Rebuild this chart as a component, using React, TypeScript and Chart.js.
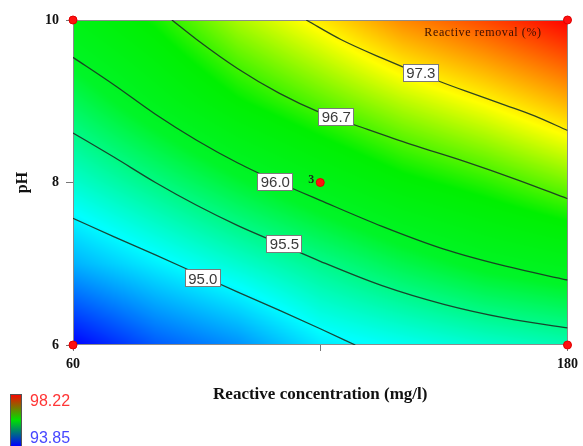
import React, { useEffect, useRef } from 'react';
import { Chart, registerables } from 'chart.js';

Chart.register(...registerables);

// ---- data ----
const concentrationGrid = [60, 80, 100, 120, 140, 160, 180];
const phGrid = [6, 7, 8, 9, 10];
const removalAtPH6 = [93.85, 94.25, 94.5, 94.9, 95.05, 95.2, 95.32];
const removalAtPH7 = [94.65, 94.93, 95.2, 95.48, 95.75, 95.98, 96.12];
const removalAtPH8 = [95.2, 95.52, 95.85, 96.15, 96.43, 96.62, 96.85];
const removalAtPH9 = [95.7, 96.1, 96.48, 96.77, 97.05, 97.28, 97.55];
const removalAtPH10 = [96.2, 96.55, 97.0, 97.33, 97.7, 97.95, 98.22];
const removalGrid = [removalAtPH6, removalAtPH7, removalAtPH8, removalAtPH9, removalAtPH10];

// colour scale stops (value -> colour)
const colorStopValues = [93.85, 95.0, 95.9, 96.5, 97.25, 98.22];
const colorStopRGB = [
  [0, 0, 255],
  [0, 255, 255],
  [0, 245, 40],
  [0, 240, 0],
  [255, 255, 0],
  [255, 0, 0],
];

const contour973 = [
  { x: 116.6, y: 10.0 }, { x: 125, y: 9.76 }, { x: 135, y: 9.53 }, { x: 145, y: 9.32 },
  { x: 155, y: 9.13 }, { x: 165, y: 8.95 }, { x: 172, y: 8.82 }, { x: 180, y: 8.64 },
];
const contour967 = [
  { x: 84, y: 10.0 }, { x: 90, y: 9.76 }, { x: 100, y: 9.4 }, { x: 110, y: 9.1 },
  { x: 120, y: 8.86 }, { x: 130, y: 8.68 }, { x: 142, y: 8.47 }, { x: 155, y: 8.26 },
  { x: 168, y: 8.03 }, { x: 180, y: 7.8 },
];
const contour960 = [
  { x: 60, y: 9.54 }, { x: 70, y: 9.2 }, { x: 80, y: 8.84 }, { x: 90, y: 8.52 },
  { x: 100, y: 8.24 }, { x: 110, y: 8.0 }, { x: 120, y: 7.78 }, { x: 135, y: 7.46 },
  { x: 150, y: 7.18 }, { x: 165, y: 6.97 }, { x: 180, y: 6.8 },
];
const contour955 = [
  { x: 60, y: 8.61 }, { x: 70, y: 8.31 }, { x: 80, y: 8.0 }, { x: 90, y: 7.72 },
  { x: 100, y: 7.47 }, { x: 110, y: 7.25 }, { x: 120, y: 7.03 }, { x: 135, y: 6.73 },
  { x: 150, y: 6.5 }, { x: 165, y: 6.33 }, { x: 180, y: 6.21 },
];
const contour950 = [
  { x: 60, y: 7.56 }, { x: 70, y: 7.33 }, { x: 80, y: 7.11 }, { x: 90, y: 6.88 },
  { x: 100, y: 6.65 }, { x: 110, y: 6.43 }, { x: 120, y: 6.2 }, { x: 128.5, y: 6.0 },
];
const contourLines = [contour973, contour967, contour960, contour955, contour950];

const contourLabelTexts = ['97.3', '96.7', '96.0', '95.5', '95.0'];
const contourLabelConc = [144.4, 123.9, 109.1, 111.3, 91.5];
const contourLabelPH = [9.35, 8.81, 8.01, 7.24, 6.82];

const designPoints = [
  { x: 60, y: 6 }, { x: 60, y: 10 }, { x: 180, y: 10 }, { x: 180, y: 6 }, { x: 120, y: 8 },
];
const centerPointLabel = '3';

const xTickValues = [60, 120, 180];
const xTickLabels = ['60', '', '180'];
const yTickValues = [6, 8, 10];
const yTickLabels = ['6', '8', '10'];

const xAxisTitle = 'Reactive concentration (mg/l)';
const yAxisTitle = 'pH';
const plotTitle = 'Reactive removal (%)';
const legendHigh = '98.22';
const legendLow = '93.85';

// ---- helpers ----
function mapColor(v: number): number[] {
  const n = colorStopValues.length;
  if (v <= colorStopValues[0]) return colorStopRGB[0];
  if (v >= colorStopValues[n - 1]) return colorStopRGB[n - 1];
  let i = 0;
  while (i < n - 2 && v > colorStopValues[i + 1]) i++;
  const f = (v - colorStopValues[i]) / (colorStopValues[i + 1] - colorStopValues[i]);
  const a = colorStopRGB[i];
  const b = colorStopRGB[i + 1];
  return [a[0] + (b[0] - a[0]) * f, a[1] + (b[1] - a[1]) * f, a[2] + (b[2] - a[2]) * f];
}

function findCell(arr: number[], v: number): [number, number] {
  let i = 0;
  while (i < arr.length - 2 && v > arr[i + 1]) i++;
  let f = (v - arr[i]) / (arr[i + 1] - arr[i]);
  f = Math.max(0, Math.min(1, f));
  return [i, f];
}

function surfaceValue(c: number, p: number): number {
  const [i, fx] = findCell(concentrationGrid, c);
  const [j, fy] = findCell(phGrid, p);
  const v00 = removalGrid[j][i];
  const v10 = removalGrid[j][i + 1];
  const v01 = removalGrid[j + 1][i];
  const v11 = removalGrid[j + 1][i + 1];
  return v00 * (1 - fx) * (1 - fy) + v10 * fx * (1 - fy) + v01 * (1 - fx) * fy + v11 * fx * fy;
}

const heatmapPlugin = {
  id: 'heatmap',
  beforeDatasetsDraw(chart: any) {
    const { ctx, chartArea, scales } = chart;
    const { left, top, right, bottom } = chartArea;
    const w = Math.round(right - left);
    const h = Math.round(bottom - top);
    const off = document.createElement('canvas');
    off.width = w;
    off.height = h;
    const octx = off.getContext('2d')!;
    const img = octx.createImageData(w, h);
    for (let j = 0; j < h; j++) {
      const p = scales.y.getValueForPixel(top + j + 0.5);
      for (let i = 0; i < w; i++) {
        const c = scales.x.getValueForPixel(left + i + 0.5);
        const col = mapColor(surfaceValue(c, p));
        const k = (j * w + i) * 4;
        img.data[k] = col[0];
        img.data[k + 1] = col[1];
        img.data[k + 2] = col[2];
        img.data[k + 3] = 255;
      }
    }
    octx.putImageData(img, 0, 0);
    ctx.save();
    ctx.drawImage(off, left, top);
    ctx.strokeStyle = '#8c8c8c';
    ctx.lineWidth = 1;
    ctx.strokeRect(left + 0.5, top + 0.5, w - 1, h - 1);
    ctx.restore();
  },
  afterDatasetsDraw(chart: any) {
    const { ctx, scales } = chart;
    ctx.save();
    // contour labels
    ctx.font = '15px "Liberation Sans", Arial, sans-serif';
    ctx.textAlign = 'center';
    ctx.textBaseline = 'middle';
    contourLabelTexts.forEach((t, i) => {
      const px = scales.x.getPixelForValue(contourLabelConc[i]);
      const py = scales.y.getPixelForValue(contourLabelPH[i]);
      const bw = 36;
      const bh = 18;
      ctx.fillStyle = '#ffffff';
      ctx.fillRect(Math.round(px - bw / 2), Math.round(py - bh / 2), bw, bh);
      ctx.strokeStyle = '#7a7a7a';
      ctx.lineWidth = 1;
      ctx.strokeRect(Math.round(px - bw / 2) + 0.5, Math.round(py - bh / 2) + 0.5, bw - 1, bh - 1);
      ctx.fillStyle = '#3a3a3a';
      ctx.fillText(t, px, py + 1);
    });
    // center point label
    const cp = designPoints[4];
    ctx.font = 'bold 12px "Liberation Serif", serif';
    ctx.fillStyle = '#1a2a1a';
    ctx.textAlign = 'right';
    ctx.fillText(centerPointLabel, scales.x.getPixelForValue(cp.x) - 6, scales.y.getPixelForValue(cp.y) - 3);
    // plot title
    ctx.font = '12px "Liberation Serif", serif';
    (ctx as any).letterSpacing = '0.6px';
    ctx.fillStyle = '#3a1000';
    ctx.textAlign = 'center';
    ctx.fillText(plotTitle, 483, 33);
    (ctx as any).letterSpacing = '0px';
    ctx.restore();
  },
  afterDraw(chart: any) {
    const { ctx } = chart;
    ctx.save();
    const g = ctx.createLinearGradient(0, 394, 0, 446);
    g.addColorStop(0, '#ff0000');
    g.addColorStop(0.5, '#00e000');
    g.addColorStop(1, '#0000ff');
    ctx.fillStyle = g;
    ctx.fillRect(10, 394, 12, 52);
    ctx.strokeStyle = '#555';
    ctx.lineWidth = 1;
    ctx.strokeRect(10.5, 394.5, 11, 52);
    ctx.font = '16px "Liberation Sans", Arial, sans-serif';
    ctx.textAlign = 'left';
    ctx.textBaseline = 'middle';
    ctx.fillStyle = '#ff3535';
    ctx.fillText(legendHigh, 30, 402);
    ctx.fillStyle = '#4646ff';
    ctx.fillText(legendLow, 30, 439);
    ctx.restore();
  },
};

export default function App() {
  const ref = useRef<HTMLCanvasElement>(null);
  useEffect(() => {
    if (!ref.current) return;
    const lineDatasets = contourLines.map((pts, i) => ({
      type: 'line' as const,
      label: contourLabelTexts[i],
      data: pts,
      borderColor: 'rgba(25,50,35,0.9)',
      borderWidth: 1.3,
      pointRadius: 0,
      cubicInterpolationMode: 'monotone' as const,
      fill: false,
      order: 2,
    }));
    const tickFont = { family: '"Liberation Serif", serif', size: 14, weight: 'bold' as const };
    const chart = new Chart(ref.current, {
      type: 'scatter',
      data: {
        datasets: [
          {
            type: 'scatter' as const,
            label: 'design',
            data: designPoints,
            backgroundColor: '#ff1010',
            borderColor: '#e00000',
            borderWidth: 1,
            pointRadius: 4,
            clip: false as any,
            order: 0,
          },
          ...lineDatasets,
        ] as any,
      },
      plugins: [heatmapPlugin],
      options: {
        animation: false,
        responsive: false,
        events: [],
        layout: { padding: { left: 5, right: 14, top: 20, bottom: 41 } },
        plugins: { legend: { display: false }, tooltip: { enabled: false }, title: { display: false } },
        scales: {
          x: {
            type: 'linear',
            min: 60,
            max: 180,
            afterBuildTicks: (s: any) => { s.ticks = xTickValues.map((v) => ({ value: v })); },
            afterFit: (s: any) => { s.height = 60; },
            ticks: {
              callback: (v: any) => xTickLabels[xTickValues.indexOf(Number(v))] ?? '',
              font: tickFont,
              color: '#111',
              padding: 5,
              maxRotation: 0,
            },
            grid: { drawOnChartArea: false, drawTicks: true, tickLength: 6, color: '#777' },
            border: { display: false },
            title: {
              display: true,
              text: xAxisTitle,
              font: { family: '"Liberation Serif", serif', size: 17, weight: 'bold' },
              color: '#111',
              padding: { top: 0, bottom: 0 },
            },
          },
          y: {
            type: 'linear',
            min: 6,
            max: 10,
            afterBuildTicks: (s: any) => { s.ticks = yTickValues.map((v) => ({ value: v })); },
            afterFit: (s: any) => { s.width = 68; },
            ticks: {
              callback: (v: any) => yTickLabels[yTickValues.indexOf(Number(v))] ?? '',
              font: tickFont,
              color: '#111',
              padding: 7,
            },
            grid: { drawOnChartArea: false, drawTicks: true, tickLength: 7, color: '#777' },
            border: { display: false },
            title: {
              display: true,
              text: yAxisTitle,
              font: { family: '"Liberation Serif", serif', size: 16, weight: 'bold' },
              color: '#111',
              padding: { top: 8, bottom: 0 },
            },
          },
        },
      } as any,
    });
    return () => chart.destroy();
  }, []);
  return (
    <div style={{ position: 'absolute', left: 0, top: 0, width: 583, height: 446, background: '#fff' }}>
      <canvas ref={ref} width={583} height={446} style={{ width: 583, height: 446, display: 'block' }} />
    </div>
  );
}
